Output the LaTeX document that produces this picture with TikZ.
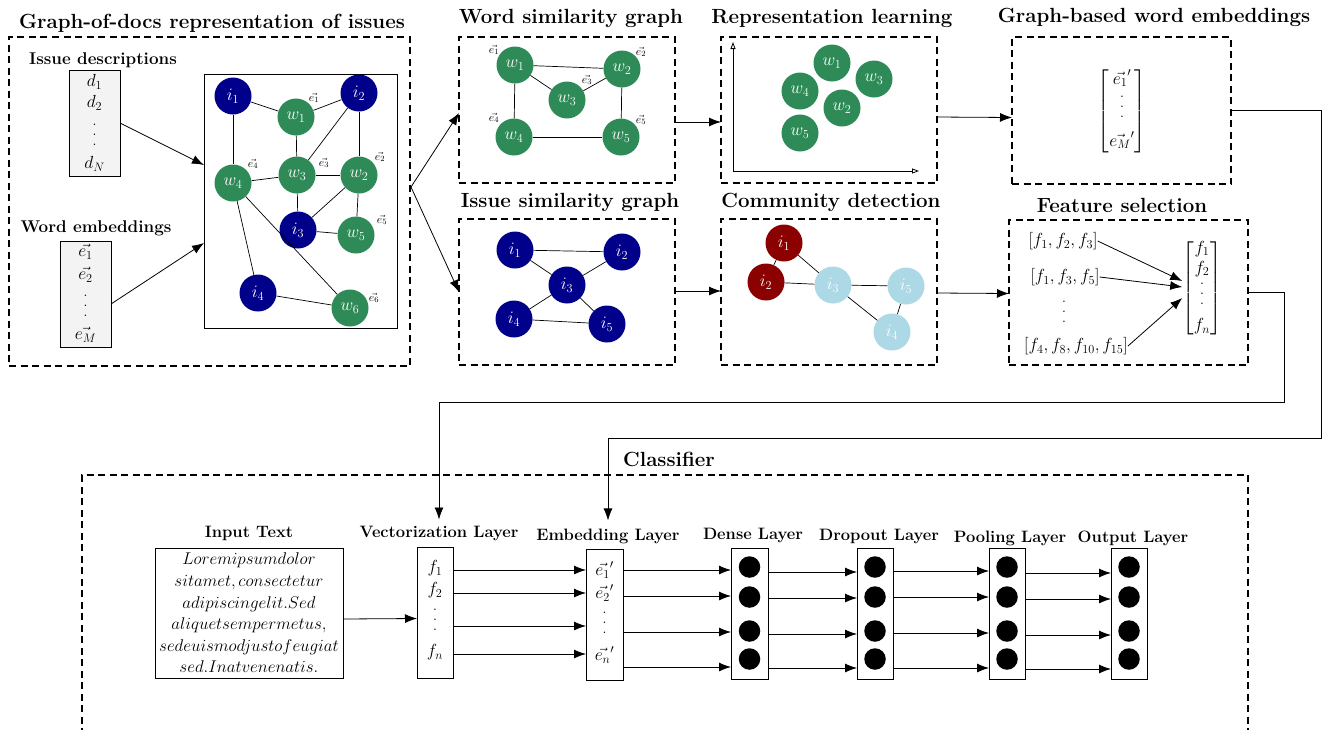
\RequirePackage{fix-cm}
\documentclass[tikz,border=0pt]{standalone}
\usepackage{amsmath}
\usetikzlibrary{arrows.meta,calc}
\definecolor{navyc}{RGB}{0,0,139}
\definecolor{greenc}{RGB}{46,139,87}
\definecolor{redc}{RGB}{139,0,0}
\definecolor{lblue}{RGB}{173,216,230}
\definecolor{grayfill}{RGB}{243,243,243}
\newcommand{\vdd}{\vbox{\baselineskip10pt\lineskiplimit0pt\hbox{.}\hbox{.}\hbox{.}}}
\begin{document}
\begin{tikzpicture}[x=1pt,y=-1pt,
  titlef/.style={font=\fontsize{20.5}{24}\selectfont\bfseries, inner sep=0pt},
  subf/.style={font=\fontsize{17}{20}\selectfont\bfseries, inner sep=0pt},
  layerf/.style={font=\fontsize{16.5}{19}\selectfont\bfseries, inner sep=0pt},
  mathf/.style={font=\fontsize{17.5}{20}\selectfont, inner sep=0pt},
  smallf/.style={font=\fontsize{11.5}{13}\selectfont, inner sep=0pt},
  dbox/.style={draw, dash pattern=on 7pt off 4.5pt, line width=1.2pt, inner sep=0pt, outer sep=0pt},
  plainbox/.style={draw, line width=0.9pt, inner sep=0pt, outer sep=0pt},
  graybox/.style={plainbox, fill=grayfill},
  gn/.style={circle, minimum size=37pt, inner sep=0pt, text=white, font=\fontsize{17.5}{20}\selectfont},
  inode/.style={gn, fill=navyc},
  wnode/.style={gn, fill=greenc},
  rnode/.style={gn, fill=redc},
  lnode/.style={gn, fill=lblue},
  edge/.style={line width=0.7pt},
  arr/.style={-{Latex[length=12pt,width=9pt]}, line width=0.8pt},
  conn/.style={line width=0.8pt},
  neuron/.style={circle, fill=black, minimum size=21.5pt, inner sep=0pt}
]
\path[use as bounding box] (0,0) rectangle (1323,729);

% ---------------- Panel 1 ----------------
\node[titlef] (t1) at (212,23) {Graph-of-docs representation of issues};
\node[dbox, minimum width=401pt, minimum height=329pt] (p1) at (209.5,201.5) {};
\node[subf] (sd) at (103,60) {Issue descriptions};
\node[graybox, minimum width=51pt, minimum height=106pt] (db) at (94.5,123) {};
\node[mathf] (d1) at (94.5,82) {$d_1$};
\node[mathf] (d2) at (94.5,103) {$d_2$};
\node[mathf] (dv) at (94.5,135) {\vdd};
\node[mathf] (dN) at (94.5,164) {$d_N$};
\node[subf] (sw) at (96,228) {Word embeddings};
\node[graybox, minimum width=51pt, minimum height=106pt] (eb) at (85.5,294) {};
\node[mathf] (ev1) at (85.5,252) {$\vec{e_1}$};
\node[mathf] (ev2) at (85.5,275) {$\vec{e_2}$};
\node[mathf] (evv) at (85.5,306) {\vdd};
\node[mathf] (evM) at (85.5,335) {$\vec{e_M}$};

\node[plainbox, minimum width=193pt, minimum height=254pt] (g1) at (300.5,201) {};
\node[inode] (a-i1) at (233,96) {$i_1$};
\node[wnode] (a-w1) at (296,117) {$w_1$};
\node[inode] (a-i2) at (359,93) {$i_2$};
\node[wnode] (a-w4) at (233,183) {$w_4$};
\node[wnode] (a-w3) at (297,175) {$w_3$};
\node[wnode] (a-w2) at (359,175) {$w_2$};
\node[inode] (a-i3) at (298,230) {$i_3$};
\node[wnode] (a-w5) at (356,235) {$w_5$};
\node[inode] (a-i4) at (258,293) {$i_4$};
\node[wnode] (a-w6) at (350,308) {$w_6$};
\node[smallf] (a-e1) at (314,98) {$\vec{e_1}$};
\node[smallf] (a-e4) at (253,164) {$\vec{e_4}$};
\node[smallf] (a-e3) at (324,163) {$\vec{e_3}$};
\node[smallf] (a-e2) at (380,157) {$\vec{e_2}$};
\node[smallf] (a-e5) at (382,220) {$\vec{e_5}$};
\node[smallf] (a-e6) at (374,298) {$\vec{e_6}$};
\foreach \a/\b in {i1/w1, w1/i2, i1/w4, w1/w3, i2/w3, i2/w2, w4/w3, w3/w2, w3/i3, i3/w2, w2/w5, i3/w5, w4/i4, w4/w6, i4/w6}
  \draw[edge] (a-\a) -- (a-\b);

\draw[arr] (db.east) -- ([yshift=36pt]g1.west);
\draw[arr] ([yshift=-10pt]eb.east) -- ([yshift=-42pt]g1.west);

% ---------------- Word similarity graph ----------------
\node[titlef] (t2) at (571,18) {Word similarity graph};
\node[dbox, minimum width=216pt, minimum height=146pt] (ws) at (567,110) {};
\node[wnode] (b-w1) at (515,65) {$w_1$};
\node[wnode] (b-w2) at (622,69) {$w_2$};
\node[wnode] (b-w3) at (567,100) {$w_3$};
\node[wnode] (b-w4) at (514,137) {$w_4$};
\node[wnode] (b-w5) at (621,137) {$w_5$};
\node[smallf] (b-e1) at (494,50) {$\vec{e_1}$};
\node[smallf] (b-e2) at (641,52) {$\vec{e_2}$};
\node[smallf] (b-e3) at (587,80) {$\vec{e_3}$};
\node[smallf] (b-e4) at (494,118) {$\vec{e_4}$};
\node[smallf] (b-e5) at (641,120) {$\vec{e_5}$};
\foreach \a/\b in {w1/w2, w1/w3, w3/w2, w1/w4, w2/w5, w4/w5}
  \draw[edge] (b-\a) -- (b-\b);

% ---------------- Representation learning ----------------
\node[titlef] (t3) at (832,18) {Representation learning};
\node[dbox, minimum width=216pt, minimum height=146pt] (rl) at (829,110) {};
\coordinate (ax-o) at (733,171);
\coordinate (ax-y) at (733,42);
\coordinate (ax-x) at (919,171);
\draw[line width=0.8pt, -{Triangle[open,length=7pt,width=5pt]}] (ax-o) -- (ax-y);
\draw[line width=0.8pt, -{Triangle[open,length=7pt,width=5pt]}] (ax-o) -- (ax-x);
\node[wnode] (c-w1) at (832,63) {$w_1$};
\node[wnode] (c-w3) at (874,79) {$w_3$};
\node[wnode] (c-w4) at (800,91) {$w_4$};
\node[wnode] (c-w2) at (842,108) {$w_2$};
\node[wnode] (c-w5) at (800,133) {$w_5$};

% ---------------- Graph-based word embeddings ----------------
\node[titlef] (t4) at (1154,17) {Graph-based word embeddings};
\node[dbox, minimum width=219pt, minimum height=147pt] (gb) at (1121.5,110.5) {};
\node[mathf] (gbm) at (1122,111) {$\begin{bmatrix}\vec{e_1}'\\[6pt] \vdd\\[8pt] \vec{e_M}'\end{bmatrix}$};

% ---------------- Issue similarity graph ----------------
\node[titlef] (t5) at (570,202) {Issue similarity graph};
\node[dbox, minimum width=216pt, minimum height=146pt] (is) at (567,292) {};
\node[inode] (d-i1) at (515,250) {$i_1$};
\node[inode] (d-i2) at (622,252) {$i_2$};
\node[inode] (d-i3) at (567,285) {$i_3$};
\node[inode] (d-i4) at (514,319) {$i_4$};
\node[inode] (d-i5) at (607,324) {$i_5$};
\foreach \a/\b in {i1/i2, i1/i3, i3/i2, i3/i4, i3/i5, i4/i5}
  \draw[edge] (d-\a) -- (d-\b);

% ---------------- Community detection ----------------
\node[titlef] (t6) at (831,202) {Community detection};
\node[dbox, minimum width=216pt, minimum height=146pt] (cd) at (829,292) {};
\node[rnode] (e-i1) at (784,243) {$i_1$};
\node[rnode] (e-i2) at (766,282) {$i_2$};
\node[lnode] (e-i3) at (833,285) {$i_3$};
\node[lnode] (e-i5) at (906,286) {$i_5$};
\node[lnode] (e-i4) at (892,332) {$i_4$};
\foreach \a/\b in {i1/i2, i1/i3, i2/i3, i3/i5, i3/i4, i5/i4}
  \draw[edge] (e-\a) -- (e-\b);

% ---------------- Feature selection ----------------
\node[titlef] (t7) at (1122,205) {Feature selection};
\node[dbox, minimum width=239pt, minimum height=145pt] (fs) at (1128.5,292.5) {};
\node[mathf] (fa) at (1063,241) {$[f_1, f_2, f_3]$};
\node[mathf] (fb) at (1065,277) {$[f_1, f_3, f_5]$};
\node[mathf] (fv) at (1064,312) {\vdd};
\node[mathf] (fc) at (1076,346) {$[f_4, f_8, f_{10}, f_{15}]$};
\node[mathf] (fm) at (1202,288) {$\begin{bmatrix}f_1\\ f_2\\[4pt] \vdd\\[6pt] f_n\end{bmatrix}$};
\draw[arr] (fa.east) -- ([yshift=7pt]fm.west);
\draw[arr] (fb.east) -- ([yshift=1pt]fm.west);
\draw[arr] (fc.east) -- ([yshift=-10pt]fm.west);

% ---------------- Connectors between panels ----------------
\coordinate (split) at (411,187);
\draw[conn] (p1.east |- split) -- (split);
\draw[arr] (split) -- ([yshift=-3pt]ws.west);
\draw[arr] (split) -- (is.west);
\draw[arr] ([yshift=-12pt]ws.east) -- ([yshift=-12pt]rl.west);
\draw[arr] ([yshift=-7pt]rl.east) -- ([yshift=-7pt]gb.west);
\draw[arr] ([yshift=1pt]is.east) -- ([yshift=1pt]cd.west);
\draw[arr] ([yshift=-1pt]cd.east) -- ([yshift=-1pt]fs.west);

% ---------------- Classifier ----------------
\node[titlef] (t8) at (669,459) {Classifier};
\draw[dash pattern=on 7pt off 4.5pt, line width=1.2pt] (82,735) -- (82,475) -- (1248,475) -- (1248,735);

\node[layerf] (lin) at (249,533) {Input Text};
\node[plainbox, minimum width=188pt, minimum height=130pt, align=center,
      font=\fontsize{17}{21.6}\selectfont] (inp) at (249,613)
  {$Loremipsumdolor$\\ $sitamet, consectetur$\\ $adipiscingelit.Sed$\\ $aliquetsempermetus,$\\ $sedeuismodjustofeugiat$\\ $sed.Inatvenenatis.$};

\node[layerf] (lvec) at (439,533) {Vectorization Layer};
\node[plainbox, minimum width=36pt, minimum height=131pt] (vec) at (435,612.5) {};
\node[mathf] (vf1) at (435,568) {$f_1$};
\node[mathf] (vf2) at (435,590) {$f_2$};
\node[mathf] (vfv) at (435,620) {\vdd};
\node[mathf] (vfn) at (435,652) {$f_n$};

\node[layerf] (lemb) at (608,536) {Embedding Layer};
\node[plainbox, minimum width=37pt, minimum height=131pt] (emb) at (604.5,614.5) {};
\node[mathf] (ee1) at (604.5,570) {$\vec{e_1}'$};
\node[mathf] (ee2) at (604.5,593) {$\vec{e_2}'$};
\node[mathf] (eev) at (604.5,623) {\vdd};
\node[mathf] (een) at (604.5,655) {$\vec{e_n}'$};

\node[layerf] (lden) at (753,535) {Dense Layer};
\node[plainbox, minimum width=37pt, minimum height=131pt] (dense) at (749.5,613.5) {};
\node[layerf] (ldro) at (879,536) {Dropout Layer};
\node[plainbox, minimum width=36pt, minimum height=131pt] (drop) at (875,613.5) {};
\node[layerf] (lpool) at (1010,538) {Pooling Layer};
\node[plainbox, minimum width=36pt, minimum height=131pt] (pool) at (1007,613.5) {};
\node[layerf] (lout) at (1133,538) {Output Layer};
\node[plainbox, minimum width=36pt, minimum height=131pt] (outl) at (1129,613.5) {};

\foreach \L/\x in {dense/749.5, drop/875, pool/1007, outl/1129}
  \foreach \y [count=\j] in {567,597,631,659}
    \node[neuron] (\L c\j) at (\x,\y) {};

\draw[arr] ([yshift=-6pt]inp.east) -- ([yshift=-6pt]vec.west);
\foreach \A/\B/\ys in {vec/emb/{570,593,626,654}, emb/dense/{570,596,632,667},
                       dense/drop/{572,598,634,668}, drop/pool/{571,597,633,668},
                       pool/outl/{573,599,635,669}}
  \foreach \y in \ys {
    \coordinate (row) at (0,\y);
    \draw[arr] (\A.east |- row) -- (\B.west |- row);
  }

% long feedback connectors
\coordinate (gbr) at (1321,110.5);
\coordinate (gbd) at (1321,438);
\coordinate (fsr) at (1284,292.5);
\coordinate (fsd) at (1284,402);
\draw[conn] (gb.east) -- (gbr) -- (gbd) -- (gbd -| lemb) ;
\draw[arr] (gbd -| lemb) -- ([yshift=8pt]lemb.north);
\draw[conn] (fs.east) -- (fsr) -- (fsd) -- (fsd -| lvec);
\draw[arr] (fsd -| lvec) -- ([yshift=6pt]lvec.north);
\end{tikzpicture}
\end{document}
